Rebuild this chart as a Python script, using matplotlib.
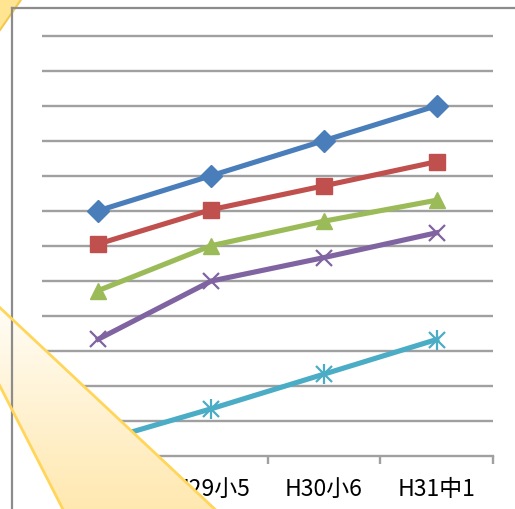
import numpy as np
import matplotlib.pyplot as plt
from matplotlib.patches import Polygon
from matplotlib.lines import Line2D

plt.rcParams['font.family'] = ['Noto Sans CJK JP', 'DejaVu Sans']

# data
categories = ["H28小4", "H29小5", "H30小6", "H31中1"]
blue_vals = [7.0, 8.0, 9.0, 10.0]
red_vals = [6.05, 7.03, 7.71, 8.4]
green_vals = [4.72, 6.0, 6.7, 7.3]
purple_vals = [3.33, 4.99, 5.66, 6.37]
cyan_vals = [0.4, 1.34, 2.33, 3.32]

W, H = 515, 510
fig = plt.figure(figsize=(W / 100, H / 100), dpi=100)
fig.patch.set_facecolor("white")

# 35 px per unit, a little headroom above the top gridline
ax = fig.add_axes([42 / W, (H - 456.7) / H, (493 - 42) / W, (456.7 - 29.7) / H])
x = np.arange(len(categories))

ax.set_xlim(-0.5, 3.5)
ax.set_ylim(0, 12.2)
ax.set_yticks(np.arange(1, 13))
ax.yaxis.grid(True, color="#a0a0a0", linewidth=1.7)
ax.set_axisbelow(True)
ax.tick_params(axis="y", left=False, labelleft=False)
for s in ["left", "right", "top"]:
    ax.spines[s].set_visible(False)
ax.spines["bottom"].set_color("#a0a0a0")
ax.spines["bottom"].set_linewidth(1.7)

ax.set_xticks(x)
ax.set_xticklabels(categories, fontsize=16.5)
ax.set_xticks(np.arange(-0.5, 4, 1), minor=True)
ax.tick_params(axis="x", which="major", length=0, pad=15)
ax.tick_params(axis="x", which="minor", length=6, width=1.7, color="#a0a0a0", direction="out")

lw = 3.7
ax.plot(x, blue_vals, color="#4a7ebb", lw=lw, marker="D", ms=11, mec="#4a7ebb")
ax.plot(x, red_vals, color="#c0504d", lw=lw, marker="s", ms=11, mec="#c0504d")
ax.plot(x, green_vals, color="#9bbb59", lw=lw, marker="^", ms=12, mec="#9bbb59")
ax.plot(x, purple_vals, color="#8064a2", lw=lw, marker="x", ms=11, mew=1.6)
ax.plot(x, cyan_vals, color="#4bacc6", lw=lw, marker="x", ms=11, mew=1.6)
ax.plot(x, cyan_vals, color="#4bacc6", lw=0, marker="|", ms=14, mew=1.6)

# overlay in pixel coordinates for chart border and callout shapes
ov = fig.add_axes([0, 0, 1, 1])
ov.axis("off")
ov.patch.set_alpha(0)

ov.add_line(Line2D([12, 12], [9, H + 5], color="#8c8c8c", lw=1.6))
ov.add_line(Line2D([12, W + 5], [9, 9], color="#8c8c8c", lw=1.6))

# top-left callout corner
ov.add_patch(Polygon([(-5, -5), (25, -5), (0, 31), (-5, 36)], closed=True,
                     facecolor="#ffe492", edgecolor="#f2c94c", lw=1.5))

# bottom-left callout tail with a vertical gradient
tail = [(-20, 290), (236, 530), (73, 530), (-20, 348)]
grad = np.linspace(0, 1, 256).reshape(-1, 1)
top_c = np.array([1.0, 0.995, 0.975])
bot_c = np.array([1.0, 0.91, 0.69])
img = top_c + (bot_c - top_c) * grad[:, :, None]
im = ov.imshow(img, extent=(0, 240, 510, 300), aspect="auto", zorder=1)
fill = Polygon(tail, closed=True, facecolor="none", edgecolor="none", transform=ov.transData)
ov.add_patch(fill)
im.set_clip_path(fill)
ov.add_patch(Polygon(tail, closed=True, facecolor="none", edgecolor="#ffd659", lw=2, zorder=2))
ov.set_xlim(0, W)
ov.set_ylim(H, 0)

fig.savefig("out.png", dpi=100, facecolor="white")
